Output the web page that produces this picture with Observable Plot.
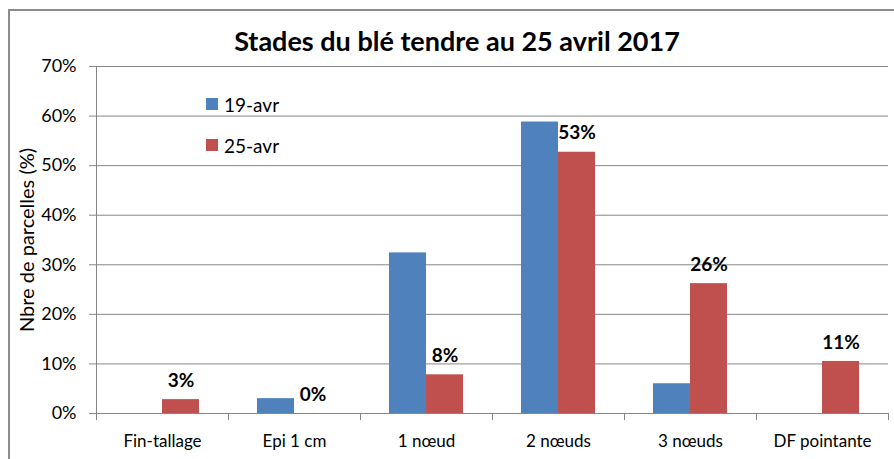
<!DOCTYPE html>
<html><head><meta charset="utf-8">
<script src="https://cdn.jsdelivr.net/npm/d3@7"></script>
<script src="https://cdn.jsdelivr.net/npm/@observablehq/plot@0.6"></script>
<style>
body{margin:0;background:#fff;font-family:Lato,"Open Sans",sans-serif;}
#chart{position:relative;width:894px;height:459px;overflow:hidden;background:#fff;}
#border{position:absolute;left:8px;top:9px;width:900px;height:460px;border-left:2px solid #8c8c8c;border-top:2px solid #8c8c8c;box-sizing:border-box;pointer-events:none;}
#title{height:50px;box-sizing:border-box;padding-top:27px;padding-left:20px;text-align:center;font-weight:bold;font-size:27px;line-height:27px;color:#000;white-space:nowrap;}
#legend{position:absolute;left:206px;top:94px;font-size:19px;color:#000;}
.row{display:flex;align-items:center;height:20px;margin-bottom:21px;}
.sw{width:12px;height:12px;margin-right:6px;}
svg{display:block;}
</style></head>
<body>
<div id="chart">
  <div id="title">Stades du blé tendre au 25 avril 2017</div>
  <div id="plot"></div>
  <div id="legend"></div>
  <div id="border"></div>
</div>
<script>
const categories = ["Fin-tallage","Epi 1 cm","1 nœud","2 nœuds","3 nœuds","DF pointante"];
const series = ["19-avr","25-avr"];
const values19 = [0, 3, 32.4, 58.8, 6, 0];
const values25 = [2.8, 0, 7.8, 52.7, 26.2, 10.5];
const labels25 = ["3%","0%","8%","53%","26%","11%"];
const colors = ["#4F81BD","#C0504D"];
const yTicks = [0,10,20,30,40,50,60,70];

const data = categories.flatMap((c,i)=>[
  {cat:c, s:series[0], v:values19[i], label:null},
  {cat:c, s:series[1], v:values25[i], label:labels25[i]}
]);

const plotH = 409, mTop = 16, mBottom = 46;
const inner = plotH - mTop - mBottom;
const gray = "#868686";

const chart = Plot.plot({
  width: 894, height: plotH,
  marginTop: mTop, marginBottom: mBottom, marginLeft: 93, marginRight: 4,
  style: {fontFamily: "Lato, 'Open Sans', sans-serif", fontSize: "18px", color: "#000", background: "transparent"},
  fx: {domain: categories, padding: 0, label: null},
  x: {domain: series, paddingInner: 0, paddingOuter: 0.75, axis: null},
  y: {domain: [0,70]},
  color: {domain: series, range: colors},
  marks: [
    Plot.gridY(yTicks, {stroke: gray, strokeOpacity: 1, strokeWidth: 1}),
    Plot.barY(data, {fx: "cat", x: "s", y: "v", fill: "s"}),
    Plot.text(data.filter(d => d.label), {fx: "cat", x: "s", y: "v", text: "label", dy: -19, fontWeight: "bold", fontSize: 19, fill: "#000"}),
    Plot.axisY(yTicks, {tickFormat: d => d + "%", tickSize: 7, tickPadding: 13, stroke: gray, fill: "#000", fontSize: 18,
      label: "Nbre de parcelles (%)", labelAnchor: "center", labelArrow: "none", labelOffset: 77}),
    Plot.axisFx({anchor: "bottom", tickSize: 0, tickPadding: 21, label: null, fill: "#000", fontSize: 17}),
    Plot.frame({anchor: "left", stroke: gray, facetAnchor: "left"}),
    Plot.frame({anchor: "left", stroke: gray, insetTop: inner, insetBottom: -6}),
    Plot.frame({anchor: "right", stroke: gray, insetTop: inner, insetBottom: -6})
  ]
});
document.getElementById("plot").appendChild(chart);
// larger y-axis title
chart.querySelectorAll("text").forEach(t => { if (t.textContent === "Nbre de parcelles (%)") t.setAttribute("font-size", 20); });

const legend = document.getElementById("legend");
series.forEach((s,i) => {
  const row = document.createElement("div");
  row.className = "row";
  const sw = document.createElement("div");
  sw.className = "sw";
  sw.style.background = colors[i];
  const t = document.createElement("span");
  t.textContent = s;
  row.appendChild(sw); row.appendChild(t);
  legend.appendChild(row);
});
</script>
</body></html>
